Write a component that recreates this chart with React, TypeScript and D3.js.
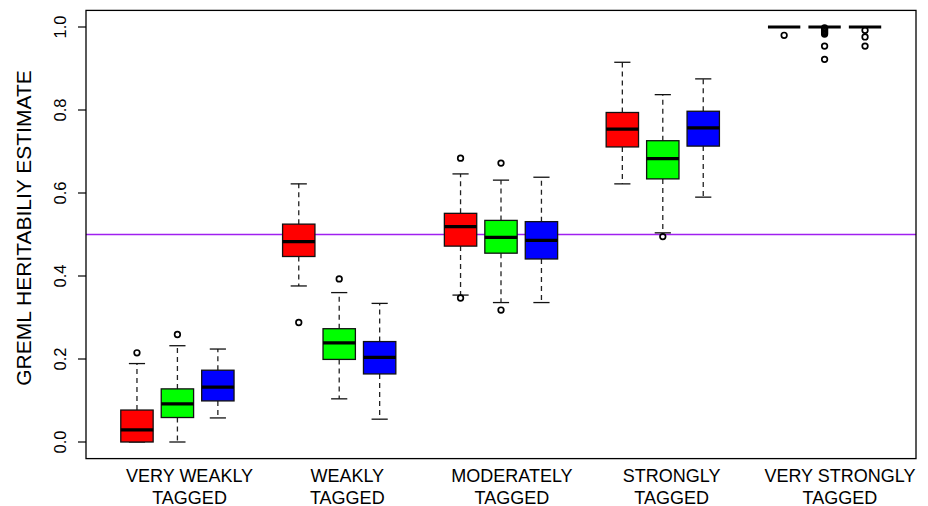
import React, { useEffect, useRef } from "react";
import * as d3 from "d3";

// group labels along the bottom (two lines each)
const groupLabels = [
  ["VERY WEAKLY", "TAGGED"],
  ["WEAKLY", "TAGGED"],
  ["MODERATELY", "TAGGED"],
  ["STRONGLY", "TAGGED"],
  ["VERY STRONGLY", "TAGGED"]
];
// where R put the labels, in box-position units
const labelAt = [2.3, 6.2, 10.27, 14.22, 18.38];

const seriesColors = ["#ff0000", "#00ff00", "#0000ff"];

// [lower whisker, q1, median, q3, upper whisker] per group
const redBoxes = [
  [0.0, 0.0, 0.029, 0.077, 0.189],
  [0.376, 0.447, 0.483, 0.525, 0.622],
  [0.354, 0.472, 0.519, 0.551, 0.646],
  [0.622, 0.711, 0.754, 0.794, 0.915],
  [1.0, 1.0, 1.0, 1.0, 1.0]
];
const greenBoxes = [
  [0.0, 0.059, 0.092, 0.128, 0.232],
  [0.104, 0.199, 0.239, 0.273, 0.36],
  [0.336, 0.455, 0.493, 0.534, 0.631],
  [0.504, 0.634, 0.683, 0.726, 0.837],
  [1.0, 1.0, 1.0, 1.0, 1.0]
];
const blueBoxes = [
  [0.058, 0.099, 0.132, 0.173, 0.224],
  [0.055, 0.164, 0.204, 0.242, 0.334],
  [0.336, 0.441, 0.486, 0.531, 0.638],
  [0.59, 0.713, 0.757, 0.797, 0.875],
  [1.0, 1.0, 1.0, 1.0, 1.0]
];

const redOutliers = [[0.215], [0.288], [0.684, 0.347], [], [0.98]];
const greenOutliers = [
  [0.259],
  [0.393],
  [0.672, 0.318],
  [0.495],
  [0.998, 0.995, 0.992, 0.989, 0.986, 0.983, 0.954, 0.922]
];
const blueOutliers = [[], [], [], [], [0.992, 0.976, 0.954]];

const yTicks = [0, 0.2, 0.4, 0.6, 0.8, 1.0];
const refLine = 0.5;

const W = 928;
const H = 506;
const font = "'Liberation Sans', Arial, Helvetica, sans-serif";

const App: React.FC = () => {
  const svgRef = useRef<SVGSVGElement>(null);

  useEffect(() => {
    if (!svgRef.current) return;
    const svg = d3.select(svgRef.current);
    svg.selectAll("*").remove();

    // R boxplot: positions 1..19, xlim padded by 4%
    const x = d3.scaleLinear().domain([-0.26, 20.26]).range([86, 916]);
    const y = d3.scaleLinear().domain([-0.04, 1.04]).range([458.6, 10.4]);
    const u = x(1) - x(0);

    const allBoxes = [redBoxes, greenBoxes, blueBoxes];
    const allOut = [redOutliers, greenOutliers, blueOutliers];

    const boxes: { pos: number; s: number[]; color: string; out: number[] }[] = [];
    allBoxes.forEach((series, si) => {
      series.forEach((s, gi) => {
        boxes.push({ pos: gi * 4 + si + 1, s, color: seriesColors[si], out: allOut[si][gi] });
      });
    });

    const g = svg.append("g");

    // reference line
    g.append("line")
      .attr("x1", x(-0.26)).attr("x2", x(20.26))
      .attr("y1", y(refLine)).attr("y2", y(refLine))
      .attr("stroke", "#a020f0")
      .attr("stroke-width", 1.3);

    const bw = 0.4 * u;
    const cw = 0.2 * u;

    const bg = g.selectAll("g.box").data(boxes).join("g").attr("class", "box");

    // whiskers
    bg.append("line")
      .attr("x1", d => x(d.pos)).attr("x2", d => x(d.pos))
      .attr("y1", d => y(d.s[3])).attr("y2", d => y(d.s[4]))
      .attr("stroke", "#222").attr("stroke-width", 1.3)
      .attr("stroke-dasharray", "5,4");
    bg.append("line")
      .attr("x1", d => x(d.pos)).attr("x2", d => x(d.pos))
      .attr("y1", d => y(d.s[1])).attr("y2", d => y(d.s[0]))
      .attr("stroke", "#222").attr("stroke-width", 1.3)
      .attr("stroke-dasharray", "5,4");
    // caps
    [0, 4].forEach(k => {
      bg.append("line")
        .attr("x1", d => x(d.pos) - cw).attr("x2", d => x(d.pos) + cw)
        .attr("y1", d => y(d.s[k])).attr("y2", d => y(d.s[k]))
        .attr("stroke", "#111").attr("stroke-width", 1.3);
    });
    // box
    bg.append("rect")
      .attr("x", d => x(d.pos) - bw)
      .attr("width", 2 * bw)
      .attr("y", d => y(d.s[3]))
      .attr("height", d => y(d.s[1]) - y(d.s[3]))
      .attr("fill", d => d.color)
      .attr("stroke", "#111")
      .attr("stroke-width", 1.3);
    // median
    bg.append("line")
      .attr("x1", d => x(d.pos) - bw).attr("x2", d => x(d.pos) + bw)
      .attr("y1", d => y(d.s[2])).attr("y2", d => y(d.s[2]))
      .attr("stroke", "#000").attr("stroke-width", 3.2);
    // outliers
    bg.selectAll("circle")
      .data(d => d.out.map(v => ({ pos: d.pos, v })))
      .join("circle")
      .attr("cx", d => x(d.pos))
      .attr("cy", d => y(d.v))
      .attr("r", 2.8)
      .attr("fill", "none")
      .attr("stroke", "#000")
      .attr("stroke-width", 1.7);

    // frame
    svg.append("rect")
      .attr("x", x(-0.26)).attr("y", y(1.04))
      .attr("width", x(20.26) - x(-0.26))
      .attr("height", y(-0.04) - y(1.04))
      .attr("fill", "none")
      .attr("stroke", "#000")
      .attr("stroke-width", 1.3);

    // y axis
    const ya = svg.append("g").attr("transform", `translate(${x(-0.26)},0)`);
    ya.selectAll("line.tick").data(yTicks).join("line")
      .attr("class", "tick")
      .attr("x1", -8).attr("x2", 0)
      .attr("y1", d => y(d)).attr("y2", d => y(d))
      .attr("stroke", "#000").attr("stroke-width", 1.2);
    ya.selectAll("text.tl").data(yTicks).join("text")
      .attr("class", "tl")
      .attr("transform", d => `translate(-20,${y(d)}) rotate(-90)`)
      .attr("text-anchor", "middle")
      .style("font-family", font)
      .style("font-size", "16.5px")
      .attr("fill", "#000")
      .text(d => d.toFixed(1));

    svg.append("text")
      .attr("transform", `translate(31,228) rotate(-90)`)
      .attr("text-anchor", "middle")
      .style("font-family", font)
      .style("font-size", "21px")
      .attr("fill", "#000")
      .text("GREML HERITABILIY ESTIMATE");

    // x labels
    const xl = svg.selectAll("text.xl").data(groupLabels).join("text")
      .attr("class", "xl")
      .attr("text-anchor", "middle")
      .style("font-family", font)
      .style("font-size", "18px")
      .attr("fill", "#000");
    xl.selectAll("tspan").data((d, i) => d.map(t => ({ t, i }))).join("tspan")
      .attr("x", d => x(labelAt[d.i]))
      .attr("y", (d, j) => 482 + j * 21.5)
      .text(d => d.t);
  }, []);

  return (
    <svg
      ref={svgRef}
      width={W}
      height={H}
      viewBox={`0 0 ${W} ${H}`}
      style={{ position: "absolute", left: 0, top: 0, background: "#fff", display: "block" }}
    />
  );
};

export default App;
